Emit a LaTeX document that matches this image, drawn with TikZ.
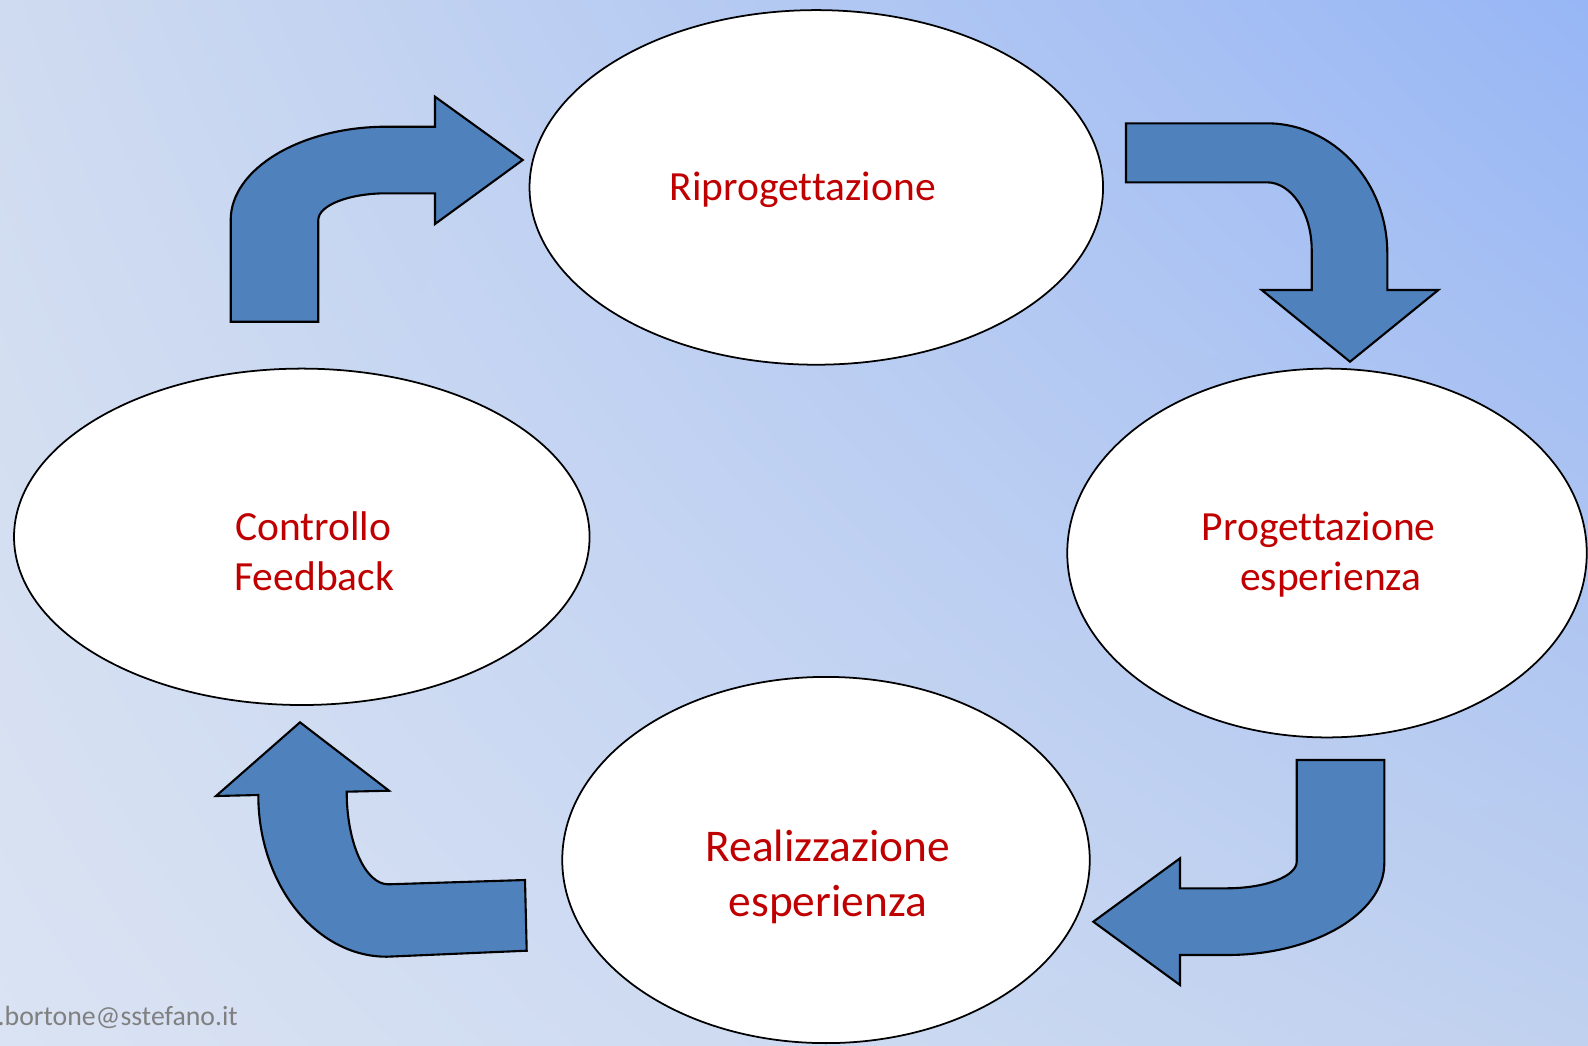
\documentclass[tikz,border=0pt]{standalone}
\usepackage{fontspec}
\setmainfont{Carlito}[Ligatures={NoCommon,NoRequired,NoContextual}]
\usetikzlibrary{shapes.geometric,shadings}
\definecolor{txtred}{RGB}{192,0,0}
\definecolor{arrblue}{RGB}{79,129,189}
\definecolor{bgTL}{RGB}{207,219,240}
\definecolor{bgTR}{RGB}{151,182,245}
\definecolor{bgBL}{RGB}{218,227,243}
\definecolor{bgBR}{RGB}{192,209,239}
\definecolor{mailgray}{RGB}{128,128,128}
\begin{document}
\begin{tikzpicture}[x=0.01cm,y=-0.01cm,
  phase/.style={ellipse, draw=black, line width=0.5pt, fill=white, inner sep=0pt},
  lbl/.style={text=txtred, anchor=base, inner sep=0pt, font=\fontsize{11.8pt}{14pt}\selectfont},
  lblbig/.style={lbl, font=\fontsize{12.9pt}{16pt}\selectfont},
  blockarrow/.style={fill=arrblue, draw=black, line width=0.6pt, line join=miter}]
\useasboundingbox (0,0) rectangle (1588,1045);
\clip (0,0) rectangle (1588,1045);
\shade[upper left=bgTL, upper right=bgTR, lower left=bgBL, lower right=bgBR] (0,0) rectangle (1588,1045);

% phases
\node[phase, minimum width=5.732cm, minimum height=3.544cm] (rip) at (816.3,187.4) {};
\node[phase, minimum width=5.752cm, minimum height=3.362cm] (ctrl) at (301.8,536.8) {};
\node[phase, minimum width=5.192cm, minimum height=3.686cm] (prog) at (1327,553) {};
\node[phase, minimum width=5.272cm, minimum height=3.66cm] (real) at (826,860) {};

% block arrows
\draw[blockarrow] (230.7,321.7) -- (230.7,220) .. controls (230.7,168.8) and (300.9,126.7) .. (386.7,126.7)
  -- (435,126.7) -- (435,96.7) -- (522.7,160) -- (435,224) -- (435,193.3) -- (386.7,193.3)
  .. controls (349,193.3) and (318.3,205.3) .. (318.3,220) -- (318.3,321.7) -- cycle;

\draw[blockarrow] (1126,123.3) -- (1266.7,123.3) .. controls (1333,123.3) and (1387.3,181.5) .. (1387.3,253)
  -- (1387.3,290) -- (1438.3,290) -- (1350,361.7) -- (1261.7,290) -- (1311.7,290) -- (1311.7,250)
  .. controls (1311.7,212.8) and (1291.5,182.3) .. (1266.7,182.3) -- (1126,182.3) -- cycle;

\draw[blockarrow] (1296.7,760) -- (1384.3,760) -- (1384.3,863.3) .. controls (1384.3,913.7) and (1313.4,955) .. (1226.7,955)
  -- (1180,955) -- (1180,985) -- (1093.3,921.7) -- (1180,858.3) -- (1180,888.3) -- (1226.7,888.3)
  .. controls (1265.2,888.3) and (1296.7,876.3) .. (1296.7,861.7) -- cycle;

\draw[blockarrow] (300,722.3) -- (389,790.7) -- (346.7,791.7)
  .. controls (346.7,842.8) and (365.3,884.3) .. (388.3,884.3) -- (525,880) -- (526.7,950.7) -- (386.7,956.7)
  .. controls (315.8,956.7) and (258.3,884.3) .. (258.3,795) -- (216,796) -- cycle;

% labels
\node[lbl] (t1) at (802.7,200.7) {Riprogettazione};
\node[lbl] (t2a) at (313.3,540.7) {Controllo};
\node[lbl] (t2b) at (314.3,590.7) {Feedback};
\node[lbl] (t3a) at (1318.7,540.7) {Progettazione};
\node[lbl] (t3b) at (1330.8,590.7) {esperienza};
\node[lblbig] (t4a) at (827.8,861.7) {Realizzazione};
\node[lblbig] (t4b) at (827.8,916.7) {esperienza};

\node[anchor=base west, text=mailgray, inner sep=0pt, font=\fontsize{7.9pt}{9pt}\selectfont] (mail) at (-3,1025) {.bortone@sstefano.it};
\end{tikzpicture}
\end{document}
